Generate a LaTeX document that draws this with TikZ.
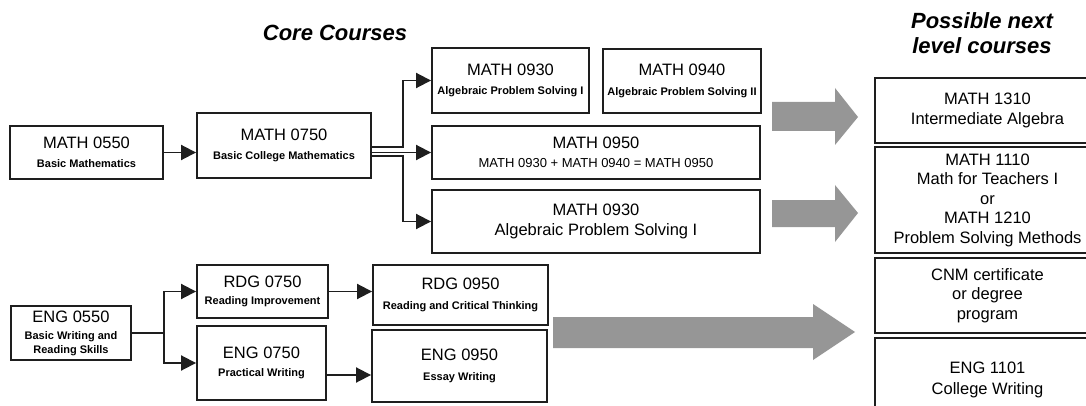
\documentclass[tikz,border=0pt]{standalone}
\usepackage{fontspec}
\setmainfont{Liberation Sans}
\usepackage{tikz}
\usetikzlibrary{arrows.meta}
\definecolor{boxLine}{RGB}{30,30,30}
\definecolor{flowGray}{RGB}{150,150,150}
\newcommand{\cdesc}[1]{{\bfseries\fontsize{11}{13}\selectfont #1}}

\begin{document}
\begin{tikzpicture}[x=1pt, y=-1pt,
    course/.style={rectangle, draw=boxLine, line width=1.9pt, inner sep=0pt, align=center, font=\fontsize{16.5}{19.5}\selectfont},
    conn/.style={-{Triangle[length=15pt, width=15pt]}, line width=1.9pt, boxLine},
    heading/.style={font=\fontsize{22}{25}\selectfont\bfseries\itshape, align=center},
    blockarrow/.style={fill=flowGray}
]
\useasboundingbox (0,0) rectangle (1086,406);
\node[heading] (core) at (335,33) {Core Courses};
\node[heading] (next) at (982,33) {Possible next\\level courses};
% math track
\node[course, minimum width=153pt, minimum height=53pt] (m550) at (86.5,152.5) {MATH 0550\\\cdesc{Basic Mathematics}};
\node[course, minimum width=174pt, minimum height=65pt] (m750) at (284,145.5) {MATH 0750\\\cdesc{Basic College Mathematics}};
\node[course, minimum width=157pt, minimum height=65pt] (m930a) at (510.5,80.5) {MATH 0930\\\cdesc{Algebraic Problem Solving I}};
\node[course, minimum width=158pt, minimum height=64pt] (m940) at (682,81) {MATH 0940\\\cdesc{Algebraic Problem Solving II}};
\node[course, minimum width=328pt, minimum height=53pt] (m950) at (596,152.5) {MATH 0950\\{\fontsize{13}{15}\selectfont MATH 0930 + MATH 0940 = MATH 0950}};
\node[course, minimum width=328pt, minimum height=63pt] (m930b) at (596,221.5) {MATH 0930\\Algebraic Problem Solving I};
% english track
\node[course, minimum width=120pt, minimum height=54pt] (e550) at (71,333) {ENG 0550\\[-2pt]\cdesc{Basic Writing and}\\[-6pt]\cdesc{Reading Skills}};
\node[course, minimum width=131pt, minimum height=53pt] (r750) at (262.5,291.5) {RDG 0750\\[-2pt]\cdesc{Reading Improvement}};
\node[course, minimum width=129pt, minimum height=74pt] (e750) at (261.5,363) {ENG 0750\\[-1pt]\cdesc{Practical Writing}};
\node[course, minimum width=175pt, minimum height=60pt] (r950) at (460.5,295) {RDG 0950\\\cdesc{Reading and Critical Thinking}};
\node[course, minimum width=175pt, minimum height=72pt] (e950) at (459.5,366) {ENG 0950\\\cdesc{Essay Writing}};
% next level
\node[course, minimum width=225pt, minimum height=65pt] (n1310) at (987.5,110.5) {MATH 1310\\Intermediate Algebra};
\node[course, minimum width=225pt, minimum height=106pt] (n1110) at (987.5,200) {MATH 1110\\Math for Teachers I\\or\\MATH 1210\\Problem Solving Methods};
\node[course, minimum width=225pt, minimum height=75pt] (ncnm) at (987.5,295.5) {CNM certificate\\or degree\\program};
\node[course, minimum width=225pt, minimum height=84pt] (n1101) at (987.5,380) {ENG 1101\\[2pt]College Writing};
% connectors
\draw[conn] (m550) -- (m550 -| m750.west);
\draw[conn] ([yshift=-1.5pt]m750.east) -- ++(31,0) |- (m930a.west);
\draw[conn] (m750.east |- m950.west) -- (m950.west);
\draw[conn] ([yshift=-10.5pt]m750.east) -- ++(31,0) |- (m930b.west);
\draw[conn] (e550.east) -- ++(32,0) |- (r750.west);
\draw[conn] (e550.east) -- ++(32,0) |- (e750.west);
\draw[conn] (r750) -- (r750 -| r950.west);
\draw[conn] ([yshift=-12pt]e750.east) -- ([yshift=-12pt]e750.east -| e950.west);
% big gray arrows
\fill[blockarrow] (772,102) -- (835,102) -- (835,88) -- (858,117) -- (835,145) -- (835,131) -- (772,131) -- cycle;
\fill[blockarrow] (772,200) -- (835,200) -- (835,185) -- (858,213) -- (835,242) -- (835,227) -- (772,227) -- cycle;
\fill[blockarrow] (553,317) -- (813,317) -- (813,304) -- (855,332) -- (813,360) -- (813,348) -- (553,348) -- cycle;
\end{tikzpicture}
\end{document}
